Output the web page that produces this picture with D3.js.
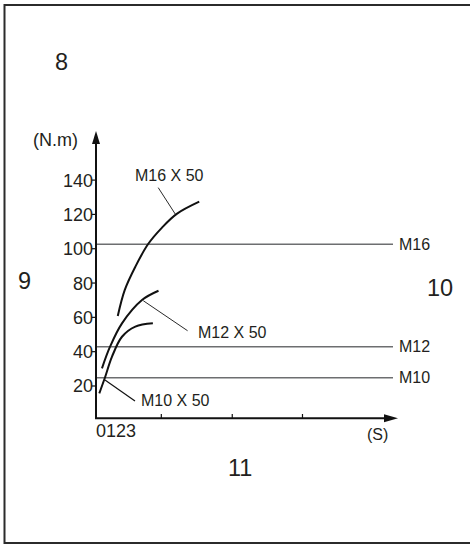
<!DOCTYPE html>
<html>
<head>
<meta charset="utf-8">
<script src="https://cdn.jsdelivr.net/npm/d3@7"></script>
<style>
  html, body { margin: 0; background: #fff; overflow: hidden; }
  svg { display: block; }
  svg text { font-family: "Liberation Sans", Arial, sans-serif; fill: #231f20; }
</style>
</head>
<body>
<svg id="chart" width="470" height="549"></svg>
<script>

// torque (N.m) vs time (S)
var yTicks = [20, 40, 60, 80, 100, 120, 140];
var xTicks = [0.93, 1.94, 2.94];
var xLabel = "0123";

var seriesNames = ["M16 X 50", "M12 X 50", "M10 X 50"];
var m16Time = [0.31, 0.41, 0.56, 0.74, 0.94, 1.15, 1.47];
var m16Torque = [60.8, 76.0, 89.5, 102.6, 112.3, 120.3, 127.4];
var m12Time = [0.085, 0.20, 0.37, 0.655, 0.89];
var m12Torque = [30.3, 42.9, 56.5, 70.1, 75.5];
var m10Time = [0.047, 0.124, 0.228, 0.37, 0.56, 0.81];
var m10Torque = [15.7, 24.5, 37.1, 48.7, 54.6, 56.5];

var limitNames = ["M16", "M12", "M10"];
var limitValues = [102.6, 42.9, 24.8];

// callouts: point on curve -> leader end -> label start
var calloutFrom = [[1.135, 119.8], [0.673, 69.7], [0.128, 23.5]];
var calloutTo = [[0.886, 135.6], [1.304, 52.2], [0.555, 11.2]];
var calloutText = [[0.555, 139.5], [1.452, 48.0], [0.641, 8.4]];

var svg = d3.select('#chart');

var x = d3.scaleLinear().domain([0, 4.3]).range([96, 398]);
var y = d3.scaleLinear().domain([0, 140]).range([420.3, 180.1]);

// frame
svg.append('rect')
  .attr('x', 4.5).attr('y', 5).attr('width', 480).attr('height', 538)
  .attr('fill', 'none').attr('stroke', '#2b2b2b').attr('stroke-width', 2);

// big reference numbers
var bigLabels = [["8", 55, 70], ["9", 18, 289], ["10", 427, 296], ["11", 228, 476]];
svg.selectAll('.big').data(bigLabels).enter().append('text')
  .attr('class', 'big')
  .attr('x', function(d){ return d[1]; })
  .attr('y', function(d){ return d[2]; })
  .style('font-size', '23.5px')
  .text(function(d){ return d[0]; });

// limit lines
svg.selectAll('.limit').data(limitValues).enter().append('line')
  .attr('x1', x(0)).attr('x2', 393)
  .attr('y1', function(d){ return y(d); })
  .attr('y2', function(d){ return y(d); })
  .attr('stroke', '#6d6e70').attr('stroke-width', 1.5);

svg.selectAll('.limitLabel').data(limitValues).enter().append('text')
  .attr('x', 399)
  .attr('y', function(d){ return y(d); })
  .attr('dy', '0.35em')
  .style('font-size', '16px')
  .text(function(d, i){ return limitNames[i]; });

// axes
var axisColor = '#111';
svg.append('line')
  .attr('x1', x(0)).attr('x2', x(0)).attr('y1', y(0) - 2).attr('y2', 140)
  .attr('stroke', axisColor).attr('stroke-width', 2);
svg.append('path')
  .attr('d', 'M' + x(0) + ',131 l-4,13 l8,0 z')
  .attr('fill', axisColor);
svg.append('line')
  .attr('x1', x(0) - 1).attr('x2', 388).attr('y1', 418.3).attr('y2', 418.3)
  .attr('stroke', axisColor).attr('stroke-width', 2);
svg.append('path')
  .attr('d', 'M398,418.3 l-14,-4 l0,8 z')
  .attr('fill', axisColor);

svg.selectAll('.ytick').data(yTicks).enter().append('line')
  .attr('x1', x(0) - 4).attr('x2', x(0))
  .attr('y1', function(d){ return y(d); })
  .attr('y2', function(d){ return y(d); })
  .attr('stroke', axisColor).attr('stroke-width', 1.2);

svg.selectAll('.ylab').data(yTicks).enter().append('text')
  .attr('x', x(0) - 3)
  .attr('y', function(d){ return y(d); })
  .attr('dy', '0.36em')
  .attr('text-anchor', 'end')
  .style('font-size', '18px')
  .text(function(d){ return d; });

svg.selectAll('.xtick').data(xTicks).enter().append('line')
  .attr('x1', function(d){ return x(d); })
  .attr('x2', function(d){ return x(d); })
  .attr('y1', 418.3).attr('y2', 414)
  .attr('stroke', axisColor).attr('stroke-width', 1.2);

svg.append('text').attr('x', x(0)).attr('y', 437)
  .style('font-size', '18px').text(xLabel);
svg.append('text').attr('x', 367).attr('y', 440)
  .style('font-size', '16px').text('(S)');
svg.append('text').attr('x', 33).attr('y', 146)
  .style('font-size', '18px').text('(N.m)');

// curves
var series = [
  d3.zip(m16Time, m16Torque),
  d3.zip(m12Time, m12Torque),
  d3.zip(m10Time, m10Torque)
];

var line = d3.line()
  .x(function(d){ return x(d[0]); })
  .y(function(d){ return y(d[1]); })
  .curve(d3.curveCatmullRom.alpha(0.5));

svg.selectAll('.curve').data(series).enter().append('path')
  .attr('d', line)
  .attr('fill', 'none')
  .attr('stroke', '#111')
  .attr('stroke-width', 2);

// callouts
svg.selectAll('.leader').data(calloutFrom).enter().append('line')
  .attr('x1', function(d){ return x(d[0]); })
  .attr('y1', function(d){ return y(d[1]); })
  .attr('x2', function(d, i){ return x(calloutTo[i][0]); })
  .attr('y2', function(d, i){ return y(calloutTo[i][1]); })
  .attr('stroke', '#111').attr('stroke-width', function(d, i){ return i == 2 ? 1.2 : 0.9; });

svg.selectAll('.callLabel').data(calloutText).enter().append('text')
  .attr('x', function(d){ return x(d[0]); })
  .attr('y', function(d){ return y(d[1]); })
  .style('font-size', '16px')
  .text(function(d, i){ return seriesNames[i]; });

</script>
</body>
</html>
